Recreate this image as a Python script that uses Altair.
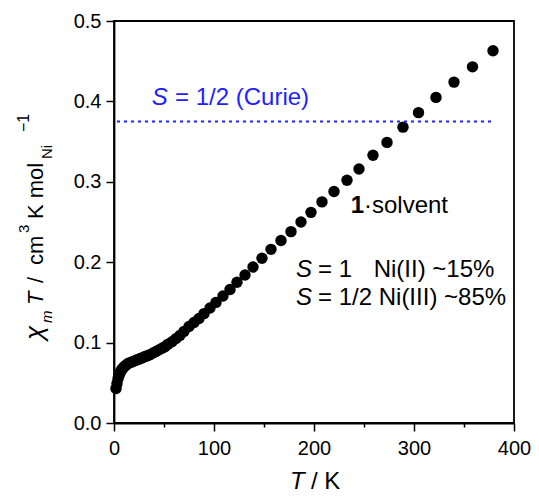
import altair as alt
import pandas as pd

# ---- data ----
T_K = [2, 3, 4, 5, 6, 7, 8, 9, 10,
       12, 14, 16, 18, 20, 22, 24, 26, 28, 30,
       32, 34, 36, 39, 42, 45, 48, 51, 54, 58,
       62, 66, 70, 75, 80, 85, 90, 96, 102, 109,
       116, 123, 131, 139, 148, 157, 167, 177, 187, 197,
       208, 220, 233, 245, 259, 273, 289, 304.5, 322, 340,
       358.5, 379]
chiT = [0.043, 0.049, 0.055, 0.059, 0.062, 0.065, 0.067, 0.068, 0.070,
        0.072, 0.074, 0.075, 0.076, 0.077, 0.078, 0.079, 0.080, 0.081, 0.082,
        0.083, 0.084, 0.085, 0.087, 0.089, 0.091, 0.093, 0.095, 0.098, 0.101,
        0.105, 0.109, 0.114, 0.120, 0.125, 0.130, 0.136, 0.143, 0.150, 0.158,
        0.166, 0.175, 0.184, 0.194, 0.205, 0.216, 0.227, 0.238, 0.250, 0.262,
        0.275, 0.288, 0.302, 0.316, 0.333, 0.349, 0.368, 0.386, 0.405, 0.424,
        0.443, 0.463]

curie_level = [0.375]
curie_T_range = [3, 378]

x_ticks = [0, 50, 100, 150, 200, 250, 300, 350, 400]
y_ticks = [0.0, 0.1, 0.2, 0.3, 0.4, 0.5]

FONT = "Liberation Sans"
BLUE = "#1f22ff"

df = pd.DataFrame({"T": T_K, "chiT": chiT})
curie_df = pd.DataFrame({"T": [curie_T_range[0]], "T1": [curie_T_range[1]], "chiT": curie_level})

xscale = alt.Scale(domain=[0, 400], nice=False, zero=False)
yscale = alt.Scale(domain=[0, 0.5], nice=False, zero=False)

xaxis = alt.Axis(values=x_ticks, title=None, grid=False,
                 labelExpr="datum.value % 100 === 0 ? datum.label : ''",
                 tickSize={"condition": {"test": "datum.value % 100 === 0", "value": 8}, "value": 4},
                 labelFontSize=20, labelFont=FONT, labelColor="black",
                 labelPadding=7, labelFlush=False,
                 tickColor="black", tickWidth=1.5,
                 domainColor="black", domainWidth=1.8)
yaxis = alt.Axis(values=y_ticks, format=".1f", title=None, grid=False,
                 tickSize=8, labelFontSize=20, labelFont=FONT, labelColor="black",
                 labelPadding=5, labelFlush=False,
                 tickColor="black", tickWidth=1.5,
                 domainColor="black", domainWidth=1.8)

def X():
    return alt.X("T:Q", scale=xscale, axis=xaxis, title=None)

def Y():
    return alt.Y("chiT:Q", scale=yscale, axis=yaxis, title=None)

points = alt.Chart(df).mark_circle(size=130, color="black", opacity=1).encode(x=X(), y=Y())

curie = alt.Chart(curie_df).mark_rule(color=BLUE, strokeWidth=2, strokeDash=[3, 4]).encode(
    x=X(), x2="T1:Q", y=Y(),
)

# annotation texts in data coordinates
ann = [
    # text, T, chi, color, style, weight
    ("S", 37.8, 0.396, BLUE, "italic", "normal"),
    ("= 1/2 (Curie)", 61.0, 0.396, BLUE, "normal", "normal"),
    ("1", 236.8, 0.2612, "black", "normal", "bold"),
    ("\u00b7solvent", 250.0, 0.2612, "black", "normal", "normal"),
    ("S", 182.1, 0.1816, "black", "italic", "normal"),
    ("= 1", 204.0, 0.1816, "black", "normal", "normal"),
    ("Ni(II) ~15%", 259.7, 0.1816, "black", "normal", "normal"),
    ("S", 182.1, 0.1468, "black", "italic", "normal"),
    ("= 1/2 Ni(III) ~85%", 204.0, 0.1468, "black", "normal", "normal"),
]
ann_layers = []
for text, t, c, col, style, weight in ann:
    d = pd.DataFrame({"T": [t], "chiT": [c], "label": [text]})
    ann_layers.append(
        alt.Chart(d).mark_text(align="left", baseline="alphabetic", font=FONT, fontSize=24,
                               color=col, fontStyle=style, fontWeight=weight).encode(
            x=X(), y=Y(), text="label:N",
        )
    )

# axis titles built from pieces (pixel offsets relative to the plot area)
one = pd.DataFrame({"a": [0]})
def piece(text, px, py, size, style="normal", angle=0):
    kw = dict(text=text, align="left", baseline="alphabetic", font=FONT, fontSize=size,
              fontStyle=style, color="black")
    if angle:
        kw["angle"] = angle
    return alt.Chart(one).mark_text(**kw).encode(x=alt.value(px), y=alt.value(py))

title_layers = [
    piece("T", 176, 468, 24, "italic"),
    piece("/ K", 197, 468, 24),
    piece("\u03c7", -71, 319, 26, "italic", 270),
    piece("m", -62, 302, 15, "italic", 270),
    piece("T", -71, 284, 22, "italic", 270),
    piece("/", -71, 262, 22, angle=270),
    piece("cm", -71, 244, 22, angle=270),
    piece("3", -85, 212, 15, angle=270),
    piece("K mol", -71, 198, 22, angle=270),
    piece("Ni", -62, 138, 15, angle=270),
    piece("\u22121", -85, 111, 16, angle=270),
]

chart = alt.layer(points, curie, *ann_layers, *title_layers).properties(
    width=400, height=402,
    autosize=alt.AutoSizeParams(type="none"),
    padding={"left": 106, "top": 13, "right": 17, "bottom": 71},
    background="white",
).configure_view(stroke="black", strokeWidth=1.8)

chart.save("out.html", embed_options={"renderer": "svg", "actions": False})
